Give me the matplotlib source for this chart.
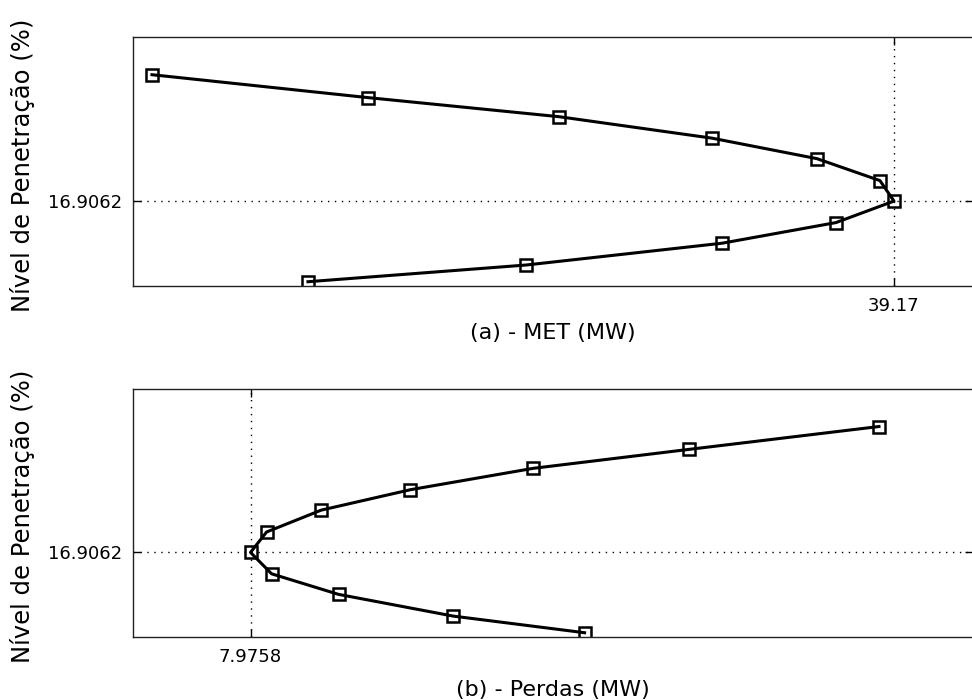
import numpy as np
import matplotlib
matplotlib.use("Agg")
import matplotlib.pyplot as plt

# penetration levels (%), top to bottom
pen = [43.4, 38.6, 34.6, 30.1, 25.8, 21.2, 16.9062, 12.4, 8.07, 3.5, 0.0]
# (a) MET (MW)
met = [31.75, 33.91, 35.82, 37.35, 38.40, 39.03, 39.17, 38.59, 37.45, 35.49, 33.31]
# (b) losses (MW)
perdas = [11.118, 10.170, 9.389, 8.775, 8.329, 8.056, 7.9758, 8.081, 8.416, 8.989, 9.646]

pen_opt = 16.9062
met_opt = 39.17
perdas_opt = 7.9758

plt.rcParams["font.family"] = "DejaVu Sans"

fig = plt.figure(figsize=(9.72, 7.0), dpi=100)
ax1 = fig.add_axes([0.1368, 0.5914, 0.8642, 0.3557])
ax2 = fig.add_axes([0.1368, 0.0900, 0.8642, 0.3543])

panels = [
    (ax1, met, met_opt, (31.56, 39.96), "(a) - MET (MW)", "39.17", 6),
    (ax2, perdas, perdas_opt, (7.388, 11.588), "(b) - Perdas (MW)", "7.9758", 10),
]

for ax, xs, xopt, xl, lab, xtl, lp in panels:
    ax.plot(xs, pen, color="k", lw=2.2, marker="s", ms=9,
            mfc="none", mec="k", mew=1.8)
    ax.set_xlim(xl)
    ax.set_ylim(-0.9, 51.3)
    ax.set_xticks([xopt])
    ax.set_xticklabels([xtl])
    ax.set_yticks([pen_opt])
    ax.set_yticklabels(["16.9062"])
    ax.grid(True, linestyle=(0, (1, 4)), color="k", lw=1.0)
    ax.tick_params(direction="in", length=6, width=1, labelsize=13,
                   top=True, right=True, pad=8)
    for s in ax.spines.values():
        s.set_color("#222222")
        s.set_linewidth(1.0)
    ax.set_xlabel(lab, fontsize=16, labelpad=lp)
    ax.set_ylabel("Nível de Penetração (%)", fontsize=17.5)
    ax.yaxis.set_label_coords(-0.117, 0.485)

fig.savefig("out.png", dpi=100)
